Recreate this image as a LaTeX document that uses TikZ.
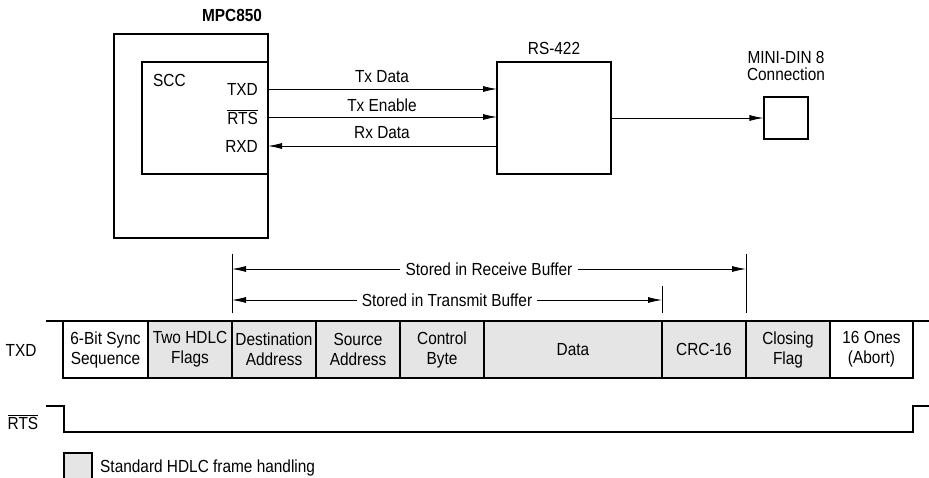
\documentclass[tikz,border=0pt]{standalone}
\usepackage{fontspec}
\setmainfont{Liberation Sans}[FakeStretch=0.88]
\usetikzlibrary{arrows.meta}
\definecolor{cellgray}{RGB}{229,229,229}
\begin{document}
\begin{tikzpicture}[x=1pt,y=-1pt,
  every node/.style={font=\fontsize{17.5}{20}\selectfont},
  box/.style={draw,line width=1.1pt},
  lbl/.style={inner sep=0pt},
  arr/.style={line width=0.8pt,-{Latex[length=14pt,width=6pt]}},
  thin/.style={line width=0.8pt},
  cell/.style={draw,line width=1.1pt,minimum height=57pt,inner sep=0pt,align=center,
    font=\fontsize{17.5}{20}\selectfont},
  gcell/.style={cell,fill=cellgray},
  wcell/.style={cell,fill=white}]
\useasboundingbox (0,0) rectangle (929,478);
\clip (0,0) rectangle (929,478);
% top block diagram
\node[lbl,font=\fontsize{17.5}{20}\selectfont\bfseries] (mpclbl) at (232,15) {MPC850};
\node[box,minimum width=154pt,minimum height=204pt,inner sep=0pt] (mpc) at (191,136) {};
\node[box,minimum width=126pt,minimum height=112pt,inner sep=0pt] (scc) at (205,118) {};
\node[lbl,anchor=west] (scclbl) at (153,80) {SCC};
\node[lbl,anchor=east] (txd) at (258,89) {TXD};
\node[lbl,anchor=east] (rts) at (258,117) {$\overline{\mbox{RTS}}$};
\node[lbl,anchor=east] (rxd) at (258,146) {RXD};
\node[box,minimum width=114pt,minimum height=112pt,inner sep=0pt] (rs) at (554,118) {};
\node[lbl] (rslbl) at (554,48) {RS-422};
\node[box,minimum width=44pt,minimum height=42pt,inner sep=0pt] (din) at (786,118) {};
\node[lbl,align=center,font=\fontsize{17.5}{17}\selectfont] (dinlbl) at (786,66) {MINI-DIN 8\\Connection};
\coordinate (a1s) at (268,89);  \coordinate (a1e) at (497,89);
\coordinate (a2s) at (268,117); \coordinate (a2e) at (497,117);
\coordinate (a3s) at (497,146); \coordinate (a3e) at (268,146);
\draw[arr] (a1s) -- (a1e);
\draw[arr] (a2s) -- (a2e);
\draw[arr] (a3s) -- (a3e);
\node[lbl] (l1) at (382,77) {Tx Data};
\node[lbl] (l2) at (382,105) {Tx Enable};
\node[lbl] (l3) at (382,133) {Rx Data};
\draw[arr] (rs.east) -- (din.west);
% buffer markers
\coordinate (v1t) at (232,254); \coordinate (v1b) at (232,313);
\coordinate (v2t) at (746,254); \coordinate (v2b) at (746,313);
\coordinate (v3t) at (662,286); \coordinate (v3b) at (662,313);
\draw[thin] (v1t) -- (v1b);
\draw[thin] (v2t) -- (v2b);
\draw[thin] (v3t) -- (v3b);
\node[inner sep=5pt] (recv) at (489,269) {Stored in Receive Buffer};
\node[inner sep=5pt] (trans) at (447,300) {Stored in Transmit Buffer};
\draw[arr] (recv.west) -- (recv.west -| v1t);
\draw[arr] (recv.east) -- (recv.east -| v2t);
\draw[arr] (trans.west) -- (trans.west -| v1t);
\draw[arr] (trans.east) -- (trans.east -| v3t);
% TXD row
\coordinate (rowl) at (46,321); \coordinate (rowr) at (929,321);
\draw[line width=1.6pt] (rowl) -- (rowr);
\node[wcell,minimum width=85pt] (c1) at (105.5,349.5) {6-Bit Sync\\Sequence};
\node[gcell,minimum width=84pt] (c2) at (190,349.5) {Two HDLC\\Flags};
\node[gcell,minimum width=84pt] (c3) at (274,349.5) {Destination\\Address};
\node[gcell,minimum width=84pt] (c4) at (358,349.5) {Source\\Address};
\node[gcell,minimum width=84pt] (c5) at (442,349.5) {Control\\Byte};
\node[gcell,minimum width=178pt] (c6) at (573,349.5) {Data};
\node[gcell,minimum width=84pt] (c7) at (704,349.5) {CRC-16};
\node[gcell,minimum width=84pt] (c8) at (788,349.5) {Closing\\Flag};
\node[wcell,minimum width=83pt] (c9) at (871.5,349.5) {16 Ones\\(Abort)};
\node[lbl] (txdrow) at (21,350) {TXD};
% RTS waveform
\node[lbl] (rtsrow) at (23,422) {$\overline{\mbox{RTS}}$};
\coordinate (r0) at (46,406); \coordinate (r1) at (64,406);
\coordinate (r2) at (64,432); \coordinate (r3) at (913,432);
\coordinate (r4) at (913,406); \coordinate (r5) at (929,406);
\draw[line width=1.1pt] (r0) -- (r1) -- (r2) -- (r3) -- (r4) -- (r5);
% legend
\draw[line width=1.1pt,fill=cellgray] (64,453) rectangle (92,480);
\node[lbl,anchor=west] (leg) at (100,468) {Standard HDLC frame handling};
\end{tikzpicture}
\end{document}
